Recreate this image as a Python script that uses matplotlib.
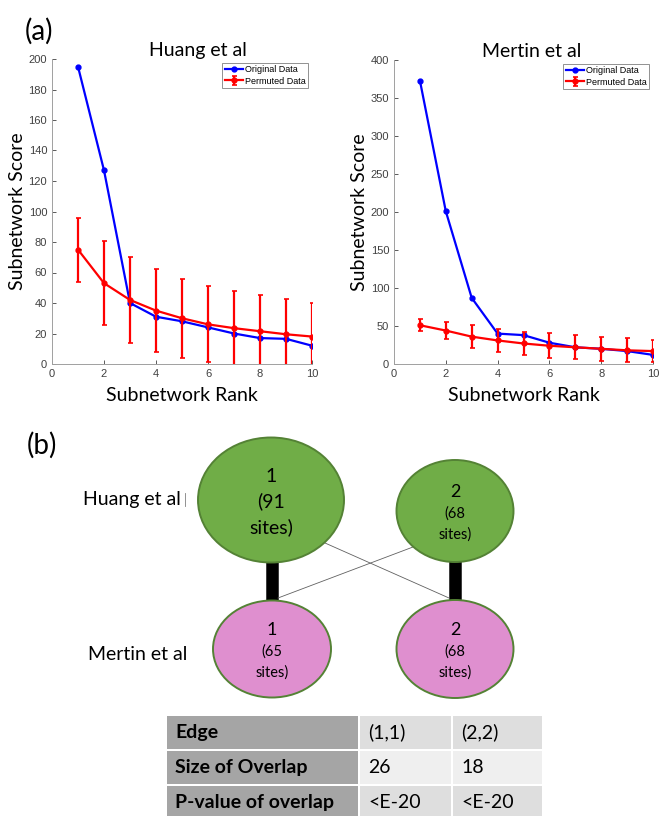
import matplotlib
matplotlib.use("Agg")
import matplotlib.pyplot as plt
from matplotlib.patches import Ellipse, Rectangle
import numpy as np

# ---- data (a) ----
rank = np.arange(1, 11)

huang_orig = [195, 127, 40, 31, 28, 24, 20, 17, 16.5, 12]
huang_perm = [75, 53, 42, 35, 30, 26, 23.5, 21.5, 19.5, 18]
huang_err = [21, 27.5, 28, 27, 26, 25, 24.5, 23.5, 23, 22]

mertin_orig = [373, 201, 87, 40, 38, 28, 22, 20, 17, 12]
mertin_perm = [51, 44, 36, 31, 27, 24, 22, 20, 18, 17]
mertin_err = [8, 11, 15, 15.5, 15, 16.5, 16, 16, 16, 15]

# ---- data (b) ----
node_labels = ["1", "2", "1", "2"]
node_sites = [91, 68, 65, 68]

table_rows = ["Edge", "Size of Overlap", "P-value of overlap"]
table_col1 = ["(1,1)", "26", "<E-20"]
table_col2 = ["(2,2)", "18", "<E-20"]

W, H = 661, 816
fig = plt.figure(figsize=(W / 100, H / 100), dpi=100)

LBL = "Lato"
TCK = "Liberation Sans"
tick_col = "#404040"


def make_axes(px):
    l, t, r, b = px
    return fig.add_axes([l / W, 1 - b / H, (r - l) / W, (b - t) / H])


def score_plot(ax, orig, perm, err, ymax, ystep, title, tx):
    ax.plot(rank, orig, color="#0000ff", lw=1.6, marker="o", ms=3.5,
            label="Original Data")
    ax.errorbar(rank, perm, yerr=err, color="#ff0000", lw=1.6, marker="o",
                ms=3.5, capsize=1.8, elinewidth=1.6, capthick=1.2,
                label="Permuted Data")
    ax.set_xlim(0, 10)
    ax.set_ylim(0, ymax)
    ax.set_xticks(range(0, 11, 2))
    ax.set_yticks(range(0, ymax + 1, ystep))
    ax.tick_params(direction="in", length=3, width=0.6, colors=tick_col,
                   labelsize=8)
    for lab in ax.get_xticklabels() + ax.get_yticklabels():
        lab.set_fontfamily(TCK)
    for s in ["top", "right"]:
        ax.spines[s].set_visible(False)
    for s in ["left", "bottom"]:
        ax.spines[s].set_color("#a0a0a0")
        ax.spines[s].set_linewidth(0.7)
    ax.set_title(title, family=LBL, fontsize=14, x=tx, pad=2)
    ax.set_xlabel("Subnetwork Rank", family=LBL, fontsize=14, labelpad=6)
    ax.set_ylabel("Subnetwork Score", family=LBL, fontsize=14, labelpad=2)
    leg = ax.legend(loc="upper right", frameon=True,
                    fancybox=False, borderpad=0.3, handlelength=2.0,
                    handletextpad=0.2, labelspacing=0.25, borderaxespad=0.4,
                    prop={"family": TCK, "size": 6.5})
    leg.get_frame().set_edgecolor("#606060")
    leg.get_frame().set_linewidth(0.6)


ax1 = make_axes((52, 59, 312, 364))
score_plot(ax1, huang_orig, huang_perm, huang_err, 200, 20, "Huang et al", 0.56)
ax2 = make_axes((394, 60, 653, 364))
score_plot(ax2, mertin_orig, mertin_perm, mertin_err, 400, 50, "Mertin et al", 0.53)

# ---- overlay in pixel coordinates for (b) ----
ov = fig.add_axes([0, 0, 1, 1], zorder=-1)
ov.set_xlim(0, W)
ov.set_ylim(H, 0)
ov.axis("off")

fig.text(25 / W, 1 - 31 / H, "(a)", family=LBL, fontsize=20, va="center")
ov.text(27, 445, "(b)", family=LBL, fontsize=20, va="center")

green, pink, rim = "#70ad47", "#df8fcf", "#548235"
nodes = [(271, 500, 146, 125), (455, 511, 117, 102),
         (272, 649, 118, 97), (455, 649, 117, 98)]

# edges
ov.plot([272, 272], [560, 602], color="black", lw=9, solid_capstyle="butt", zorder=1)
ov.plot([455, 455], [560, 602], color="black", lw=9, solid_capstyle="butt", zorder=1)
ov.plot([325, 449], [543, 598], color="#606060", lw=0.6, zorder=1)
ov.plot([413, 278], [547, 598], color="#606060", lw=0.6, zorder=1)

for i, (cx, cy, w, h) in enumerate(nodes):
    ov.add_patch(Ellipse((cx, cy), w, h, facecolor=green if i < 2 else pink,
                         edgecolor=rim, lw=1.4, zorder=2))
    big = i == 0
    ov.text(cx, cy - (24 if big else 19), node_labels[i], family=LBL,
            fontsize=14 if big else 13, ha="center", va="center", zorder=3)
    ov.text(cx, cy + (1 if big else 3), "(%d" % node_sites[i], family=LBL,
            fontsize=14 if big else 10.5, ha="center", va="center", zorder=3)
    ov.text(cx, cy + (27 if big else 24), "sites)", family=LBL,
            fontsize=14 if big else 10.5, ha="center", va="center", zorder=3)

ov.text(83, 499, "Huang et al", family=LBL, fontsize=14, va="center")
ov.plot([184.5, 184.5], [493, 506], color="#808080", lw=0.6)
ov.text(88, 654, "Mertin et al", family=LBL, fontsize=14, va="center")

# ---- table ----
col_x = [167, 360, 453]
col_w = [191, 91, 89]
row_y = [716, 751, 786]
row_h = 33
shade = ["#dedede", "#efefef", "#dedede"]
for r in range(3):
    y = row_y[r]
    ov.add_patch(Rectangle((col_x[0], y), col_w[0], row_h, facecolor="#a5a5a5",
                           edgecolor="none"))
    ov.text(col_x[0] + 8, y + row_h / 2, table_rows[r], family=LBL,
            weight="bold", fontsize=14, va="center")
    for c, vals in ((1, table_col1), (2, table_col2)):
        ov.add_patch(Rectangle((col_x[c], y), col_w[c], row_h,
                               facecolor=shade[r], edgecolor="none"))
        ov.text(col_x[c] + 8, y + row_h / 2, vals[r], family=LBL,
                fontsize=14, va="center")

fig.savefig("out.png", dpi=100)
